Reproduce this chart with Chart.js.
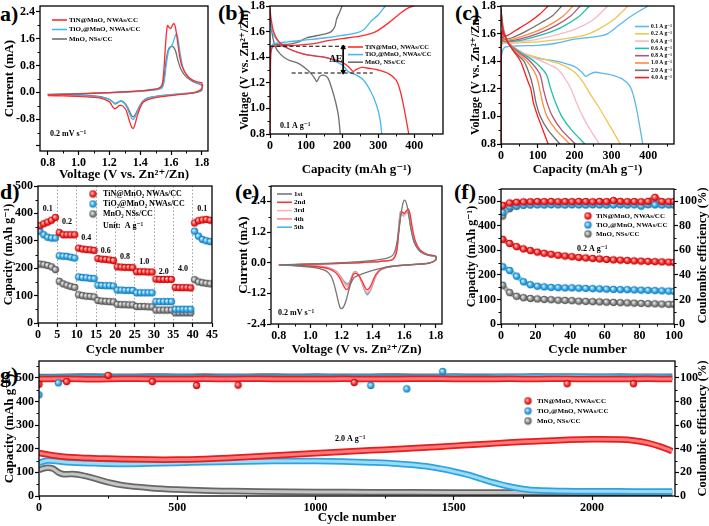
<!DOCTYPE html>
<html><head><meta charset="utf-8">
<script src="https://cdn.jsdelivr.net/npm/chart.js@4.4.1/dist/chart.umd.min.js"></script>
<style>
body{margin:0;width:709px;height:526px;background:#fff;position:relative;overflow:hidden}
canvas{position:absolute}
.pl{position:absolute;font:bold 22px 'Liberation Serif','Times New Roman',serif;color:#000;line-height:1}
</style></head><body>
<div class="pl" style="left:0px;top:3px">a)</div>
<div class="pl" style="left:218px;top:2px">(b)</div>
<div class="pl" style="left:455px;top:2px">(c)</div>
<div class="pl" style="left:0px;top:181px">d)</div>
<div class="pl" style="left:235px;top:181px">(e)</div>
<div class="pl" style="left:454px;top:181px">(f)</div>
<div class="pl" style="left:0px;top:364px">g)</div>
<script>
// ---------------- DATA ----------------
// (a) CV at 0.2 mV/s : [voltage, current]
const cvA_TiN = [[0.80,-0.08],[0.90,-0.07],[1.00,-0.05],[1.10,-0.03],[1.20,-0.01],[1.30,0.01],[1.40,0.04],[1.48,0.08],[1.52,0.12],[1.54,0.2],[1.55,0.45],[1.56,1.1],[1.57,1.75],[1.578,1.99],[1.588,1.93],[1.598,1.9],[1.608,1.98],[1.618,2.05],[1.628,1.95],[1.64,1.6],[1.655,1.1],[1.67,0.8],[1.70,0.52],[1.74,0.36],[1.78,0.3],[1.80,0.28],[1.80,0.12],[1.77,0.02],[1.72,-0.03],[1.65,-0.07],[1.58,-0.11],[1.50,-0.16],[1.45,-0.22],[1.42,-0.3],[1.40,-0.45],[1.38,-0.72],[1.365,-0.98],[1.355,-1.08],[1.345,-1.04],[1.33,-0.85],[1.31,-0.55],[1.29,-0.42],[1.275,-0.39],[1.262,-0.4],[1.25,-0.45],[1.238,-0.49],[1.228,-0.47],[1.215,-0.38],[1.20,-0.28],[1.15,-0.18],[1.10,-0.15],[1.00,-0.12],[0.90,-0.11],[0.80,-0.10]];
const cvA_TiO2 = [[0.80,-0.07],[1.00,-0.05],[1.20,-0.02],[1.40,0.03],[1.50,0.07],[1.54,0.12],[1.555,0.3],[1.57,0.85],[1.585,1.25],[1.60,1.36],[1.612,1.45],[1.625,1.65],[1.635,1.73],[1.645,1.6],[1.66,1.15],[1.68,0.7],[1.72,0.42],[1.76,0.3],[1.80,0.22],[1.80,0.07],[1.76,0.0],[1.70,-0.03],[1.60,-0.07],[1.50,-0.13],[1.45,-0.18],[1.42,-0.27],[1.40,-0.4],[1.38,-0.6],[1.365,-0.76],[1.355,-0.81],[1.345,-0.78],[1.33,-0.63],[1.31,-0.42],[1.29,-0.3],[1.275,-0.27],[1.26,-0.28],[1.248,-0.31],[1.236,-0.33],[1.222,-0.29],[1.20,-0.21],[1.15,-0.15],[1.10,-0.12],[1.00,-0.09],[0.90,-0.08],[0.80,-0.07]];
const cvA_MnO2 = [[0.80,-0.06],[1.00,-0.04],[1.20,-0.01],[1.40,0.04],[1.50,0.09],[1.54,0.16],[1.555,0.45],[1.57,1.0],[1.585,1.3],[1.60,1.36],[1.615,1.35],[1.63,1.22],[1.645,0.95],[1.665,0.68],[1.70,0.45],[1.75,0.3],[1.80,0.2],[1.80,0.06],[1.76,-0.01],[1.70,-0.04],[1.60,-0.07],[1.50,-0.12],[1.45,-0.17],[1.42,-0.25],[1.40,-0.38],[1.38,-0.56],[1.365,-0.69],[1.355,-0.73],[1.345,-0.7],[1.33,-0.56],[1.31,-0.38],[1.29,-0.28],[1.275,-0.26],[1.26,-0.29],[1.248,-0.33],[1.238,-0.35],[1.225,-0.3],[1.20,-0.21],[1.15,-0.14],[1.10,-0.11],[1.00,-0.08],[0.90,-0.07],[0.80,-0.06]];

// (b) GCD at 0.1 A/g : [capacity, voltage]
const gcdB_TiN_dis = [[0,1.78],[3,1.7],[10,1.6],[25,1.52],[50,1.47],[75,1.44],[100,1.42],[150,1.40],[200,1.36],[220,1.32],[230,1.29],[240,1.305],[255,1.32],[280,1.31],[300,1.30],[330,1.27],[350,1.22],[360,1.15],[370,1.03],[380,0.88],[385,0.8]];
const gcdB_TiN_chg = [[0,0.8],[1,1.2],[2,1.4],[4,1.46],[10,1.485],[50,1.49],[100,1.50],[130,1.51],[160,1.53],[200,1.545],[250,1.565],[280,1.585],[300,1.61],[330,1.67],[360,1.74],[380,1.78],[400,1.8]];
const gcdB_TiO2_dis = [[0,1.72],[5,1.62],[15,1.55],[40,1.48],[100,1.42],[150,1.40],[180,1.37],[200,1.34],[210,1.31],[218,1.285],[240,1.26],[260,1.22],[280,1.13],[295,1.03],[305,0.92],[310,0.8]];
const gcdB_TiO2_chg = [[0,1.35],[2,1.45],[8,1.5],[50,1.52],[100,1.535],[150,1.55],[200,1.57],[240,1.59],[260,1.615],[280,1.68],[300,1.73],[320,1.8]];
const gcdB_MnO2_dis = [[0,1.75],[5,1.6],[15,1.48],[30,1.42],[50,1.38],[80,1.35],[100,1.31],[115,1.27],[125,1.23],[130,1.21],[138,1.25],[148,1.26],[160,1.24],[172,1.15],[182,1.05],[190,0.94],[195,0.8]];
const gcdB_MnO2_chg = [[0,1.45],[5,1.49],[20,1.5],[50,1.5],[80,1.52],[100,1.55],[150,1.58],[170,1.6],[180,1.64],[185,1.7],[193,1.75],[200,1.8]];
const dEupper = [[0,1.486],[212,1.486]];
const dElower = [[60,1.276],[285,1.276]];
const dEarrow = [[203,1.476],[203,1.287]];

// (c) TiN@MnO2 at different rates : [capacity, voltage]
const rateLabels = ['0.1 A g⁻¹','0.2 A g⁻¹','0.4 A g⁻¹','0.6 A g⁻¹','0.8 A g⁻¹','1.0 A g⁻¹','2.0 A g⁻¹','4.0 A g⁻¹'];
const cDis01 = [[0,1.78],[3,1.7],[10,1.6],[25,1.52],[50,1.47],[75,1.44],[100,1.42],[150,1.40],[200,1.36],[220,1.32],[230,1.29],[240,1.305],[255,1.32],[280,1.31],[300,1.30],[330,1.27],[350,1.22],[360,1.15],[370,1.03],[380,0.88],[385,0.8]];
const cChg01 = [[0,1.35],[2,1.45],[10,1.5],[40,1.51],[100,1.515],[150,1.53],[200,1.56],[250,1.575],[275,1.585],[290,1.6],[320,1.66],[350,1.72],[380,1.77],[400,1.8]];
const cDis02 = [[0,1.77],[3,1.69],[8,1.62],[20,1.54],[60,1.46],[110,1.42],[160,1.38],[200,1.32],[225,1.24],[245,1.15],[265,1.07],[285,0.98],[305,0.89],[324,0.8]];
const cChg02 = [[0,0.8],[1,1.5],[4,1.53],[15,1.53],[100,1.54],[180,1.565],[230,1.59],[270,1.64],[310,1.71],[345,1.8]];
const cDis04 = [[0,1.78],[3,1.69],[8,1.62],[20,1.54],[60,1.46],[110,1.4],[155,1.34],[175,1.27],[190,1.2],[205,1.1],[222,1.0],[243,0.9],[267,0.8]];
const cChg04 = [[0,0.8],[1,1.5],[3,1.54],[10,1.535],[80,1.55],[150,1.59],[200,1.63],[250,1.7],[290,1.8]];
const cDis06 = [[0,1.78],[3,1.68],[8,1.61],[20,1.53],[55,1.46],[90,1.4],[122,1.31],[135,1.2],[148,1.1],[165,1.0],[192,0.9],[228,0.8]];
const cChg06 = [[0,0.8],[1,1.5],[3,1.55],[10,1.54],[60,1.555],[110,1.59],[160,1.64],[210,1.72],[240,1.8]];
const cDis08 = [[0,1.78],[3,1.68],[8,1.61],[20,1.53],[50,1.46],[75,1.41],[105,1.31],[115,1.2],[125,1.1],[140,1.0],[165,0.9],[202,0.8]];
const cChg08 = [[0,0.8],[1,1.5],[3,1.56],[10,1.545],[50,1.56],[100,1.6],[150,1.66],[190,1.73],[215,1.8]];
const cDis10 = [[0,1.78],[3,1.67],[8,1.6],[20,1.53],[45,1.46],[70,1.4],[95,1.3],[105,1.2],[113,1.1],[125,1.0],[150,0.9],[187,0.8]];
const cChg10 = [[0,0.8],[1,1.5],[3,1.57],[10,1.55],[40,1.565],[90,1.61],[130,1.66],[170,1.73],[195,1.8]];
const cDis20 = [[0,1.78],[3,1.67],[8,1.6],[20,1.53],[40,1.46],[62,1.4],[78,1.3],[88,1.2],[95,1.1],[107,1.0],[128,0.9],[160,0.8]];
const cChg20 = [[0,0.8],[1,1.5],[3,1.58],[10,1.56],[30,1.57],[70,1.62],[110,1.68],[140,1.73],[165,1.8]];
const cDis40 = [[0,1.78],[3,1.66],[8,1.6],[20,1.53],[35,1.47],[53,1.4],[67,1.3],[75,1.24],[81,1.2],[88,1.1],[100,1.0],[114,0.9],[128,0.8]];
const cChg40 = [[0,0.8],[1,1.5],[3,1.62],[8,1.58],[20,1.59],[50,1.64],[80,1.69],[105,1.74],[128,1.8]];

// (d) rate performance
const dCycle = [1,2,3,4,5,6,7,8,9,10,11,12,13,14,15,16,17,18,19,20,21,22,23,24,25,26,27,28,29,30,31,32,33,34,35,36,37,38,39,40,41,42,43,44,45];
const dTiN  = [355,362,368,375,385,330,322,322,322,322,273,270,268,267,265,235,233,232,230,228,205,204,203,203,202,187,187,187,186,186,160,159,159,159,159,130,129,129,129,128,365,373,376,378,375];
const dTiO2 = [335,322,313,310,310,245,244,243,240,237,168,166,165,163,162,138,137,136,136,135,120,120,119,119,119,110,110,110,110,110,78,78,78,78,78,50,50,50,50,50,335,317,305,300,297];
const dMnO2 = [215,213,210,205,195,152,143,138,133,130,103,100,98,97,95,82,80,79,78,77,68,67,67,66,66,60,60,60,59,59,47,47,47,47,47,37,37,37,37,37,158,150,147,145,143];
const dRateText = ['0.1','0.2','0.4','0.6','0.8','1.0','2.0','4.0','0.1'];
const dRateTextCycle = [2.5,7.5,12.5,17.5,22.5,27.5,32.5,37.5,42.5];
const dRateTextCap = [418,368,309,263,240,224,188,196,418];

// (e) CV cycles of TiN@MnO2 : [voltage, current]
const cvE_1 = [[0.80,-0.09],[1.00,-0.05],[1.20,0.0],[1.35,0.06],[1.45,0.13],[1.50,0.2],[1.53,0.32],[1.55,0.7],[1.565,1.3],[1.58,1.95],[1.592,2.35],[1.60,2.45],[1.61,2.38],[1.625,2.0],[1.64,1.4],[1.66,0.85],[1.69,0.5],[1.73,0.33],[1.77,0.27],[1.80,0.25],[1.80,0.1],[1.76,-0.01],[1.70,-0.05],[1.60,-0.1],[1.50,-0.17],[1.45,-0.22],[1.40,-0.3],[1.35,-0.4],[1.32,-0.47],[1.30,-0.52],[1.28,-0.58],[1.26,-0.8],[1.245,-1.1],[1.23,-1.45],[1.215,-1.7],[1.20,-1.8],[1.19,-1.75],[1.18,-1.55],[1.165,-1.15],[1.15,-0.8],[1.13,-0.5],[1.10,-0.32],[1.05,-0.22],[1.00,-0.17],[0.90,-0.12],[0.80,-0.09]];
const cvE_2 = [[0.80,-0.09],[1.00,-0.06],[1.20,-0.03],[1.40,0.03],[1.50,0.08],[1.53,0.14],[1.55,0.4],[1.565,1.2],[1.578,1.9],[1.59,1.98],[1.60,1.92],[1.612,2.02],[1.625,2.1],[1.635,1.95],[1.65,1.4],[1.67,0.85],[1.70,0.5],[1.75,0.32],[1.80,0.25],[1.80,0.12],[1.76,-0.02],[1.70,-0.06],[1.60,-0.1],[1.50,-0.16],[1.45,-0.26],[1.42,-0.45],[1.40,-0.7],[1.385,-0.92],[1.37,-1.04],[1.36,-1.05],[1.35,-0.97],[1.33,-0.72],[1.31,-0.5],[1.29,-0.42],[1.28,-0.43],[1.27,-0.52],[1.258,-0.75],[1.245,-0.98],[1.235,-1.05],[1.225,-1.02],[1.21,-0.88],[1.19,-0.62],[1.16,-0.38],[1.12,-0.24],[1.05,-0.16],[0.95,-0.12],[0.80,-0.09]];
const cvE_3 = [[0.80,-0.09],[1.00,-0.06],[1.20,-0.03],[1.40,0.03],[1.50,0.08],[1.53,0.14],[1.55,0.45],[1.565,1.3],[1.578,1.97],[1.59,1.9],[1.60,1.86],[1.61,1.95],[1.62,2.02],[1.632,1.9],[1.648,1.35],[1.67,0.8],[1.70,0.48],[1.75,0.31],[1.80,0.24],[1.80,0.11],[1.76,-0.02],[1.70,-0.06],[1.60,-0.1],[1.50,-0.16],[1.45,-0.27],[1.42,-0.48],[1.40,-0.76],[1.385,-1.0],[1.37,-1.13],[1.36,-1.15],[1.35,-1.06],[1.33,-0.78],[1.31,-0.5],[1.295,-0.39],[1.285,-0.38],[1.275,-0.44],[1.262,-0.65],[1.25,-0.85],[1.24,-0.93],[1.228,-0.9],[1.21,-0.76],[1.19,-0.55],[1.16,-0.34],[1.12,-0.22],[1.05,-0.15],[0.95,-0.11],[0.80,-0.09]];
const cvE_4 = [[0.80,-0.09],[1.00,-0.06],[1.20,-0.03],[1.40,0.03],[1.50,0.08],[1.53,0.14],[1.55,0.45],[1.565,1.32],[1.577,2.0],[1.59,1.9],[1.598,1.84],[1.608,1.93],[1.618,2.0],[1.63,1.88],[1.646,1.33],[1.67,0.78],[1.70,0.47],[1.75,0.3],[1.80,0.24],[1.80,0.1],[1.76,-0.02],[1.70,-0.06],[1.60,-0.1],[1.50,-0.16],[1.45,-0.28],[1.42,-0.5],[1.40,-0.8],[1.385,-1.04],[1.37,-1.18],[1.362,-1.2],[1.35,-1.1],[1.33,-0.8],[1.31,-0.5],[1.295,-0.37],[1.285,-0.36],[1.275,-0.42],[1.262,-0.62],[1.25,-0.81],[1.24,-0.88],[1.228,-0.86],[1.21,-0.72],[1.19,-0.52],[1.16,-0.32],[1.12,-0.21],[1.05,-0.15],[0.95,-0.11],[0.80,-0.09]];
const cvE_5 = [[0.80,-0.09],[1.00,-0.06],[1.20,-0.03],[1.40,0.03],[1.50,0.08],[1.53,0.14],[1.55,0.48],[1.563,1.35],[1.575,2.0],[1.587,1.9],[1.595,1.82],[1.605,1.9],[1.615,2.0],[1.627,1.86],[1.643,1.3],[1.665,0.76],[1.70,0.45],[1.75,0.3],[1.80,0.23],[1.80,0.1],[1.76,-0.02],[1.70,-0.06],[1.60,-0.1],[1.50,-0.16],[1.45,-0.29],[1.42,-0.52],[1.40,-0.84],[1.385,-1.08],[1.37,-1.23],[1.362,-1.25],[1.35,-1.14],[1.33,-0.82],[1.31,-0.5],[1.295,-0.36],[1.285,-0.35],[1.275,-0.4],[1.262,-0.58],[1.25,-0.76],[1.24,-0.82],[1.228,-0.8],[1.21,-0.68],[1.19,-0.5],[1.16,-0.31],[1.12,-0.2],[1.05,-0.14],[0.95,-0.11],[0.80,-0.09]];
const eCycleLabels = ['1st','2nd','3rd','4th','5th'];

// (f) cycling at 0.2 A/g
const fCycle = [1,5,9,13,17,21,25,29,33,37,41,45,49,53,57,61,65,69,73,77,81,85,89,93,97,100];
const fCapTiN  = [345,328,315,306,299,293,288,284,280,277,274,271,269,267,265,263,261,260,259,257,256,255,254,253,252,251];
const fCapTiO2 = [233,218,195,172,160,154,151,149,148,147,147,146,145,144,143,142,141,140,140,139,138,137,136,135,134,133];
const fCapMnO2 = [158,128,113,107,104,102,100,99,97,96,95,93,92,91,90,89,88,87,86,85,84,83,82,81,80,80];
const fCeTiN  = [96.5,98.6,99.2,99.5,99.6,99.8,99.7,99.9,99.6,99.8,99.7,99.9,99.8,99.6,99.9,99.7,100.6,99.9,99.7,99.8,99.6,99.9,103.2,99.8,99.7,99.8];
const fCeTiO2 = [91,95.5,96.3,96.8,97,97.1,97.0,97.2,97.1,97.0,97.2,97.1,97.0,97.2,97.1,97.0,97.1,97.2,97.0,97.1,96.0,97.2,97.1,97.0,97.1,97.0];
const fCeMnO2 = [88,94,96,97,97.3,97.5,97.4,97.6,97.5,97.4,97.6,97.5,97.4,97.5,97.6,97.4,97.5,97.6,97.5,98.5,97.5,97.4,97.6,97.5,97.4,97.5];

// (g) long cycling at 2.0 A/g
const gXTicks  = [0,500,1000,1500,2000];
const gCycTiN  = [0,30,60,100,150,200,300,400,500,600,700,800,900,1000,1100,1200,1300,1400,1500,1600,1700,1800,1900,2000,2100,2150,2200,2250,2290];
const gCapTiN  = [182,176,170,165,162,160,156,154,154,157,162,168,174,181,187,193,199,205,212,219,226,232,237,240,239,235,225,208,190];
const gCycTiO2 = [0,30,60,100,200,300,400,500,600,700,800,900,1000,1100,1200,1300,1400,1450,1500,1550,1600,1650,1700,1750,1800,1900,2000,2100,2200,2290];
const gCapTiO2 = [140,150,148,143,138,135,137,140,143,145,147,148,148,146,142,136,126,116,104,90,72,55,40,30,24,21,20,20,19,19];
const gCycMnO2 = [0,15,30,50,70,85,100,120,140,170,200,250,300,400,500,600,700,800,1000,1200,1500,2000,2290];
const gCapMnO2 = [110,116,119,116,100,93,92,93,91,84,75,58,46,34,27,23,21,19,17,16,15,14,13];
const gCycCE   = [0,100,200,300,400,500,600,700,800,900,1000,1100,1200,1300,1400,1500,1600,1700,1800,1900,2000,2100,2200,2290];
const gCeTiN   = [98.9,99.1,98.8,99.2,99.0,98.9,99.1,99.0,99.2,98.9,99.0,99.1,98.9,99.0,99.2,99.0,98.9,99.1,99.0,99.2,98.9,99.0,99.1,99.0];
const gCeTiO2  = [99.8,100.2,100.0,100.3,100.1,100.2,99.9,100.3,100.1,100.0,100.2,100.1,100.3,100.0,100.2,100.4,100.1,100.6,100.8,101.0,100.7,100.5,100.4,100.3];
const gCeMnO2  = [100.6,100.9,101.0,100.8,101.1,100.9,101.0,100.8,101.1,100.9,101.0,100.8,100.9,101.1,100.8,101.0,100.9,100.8,101.0,100.9,100.8,101.0,100.9,100.8];
const gCeOutTiN  = [[0,94.5],[100,96.8],[250,102],[410,96.8],[570,93.5],[720,93.8],[1140,96],[1910,95],[2150,95]];
const gCeOutTiO2 = [[0,85.5],[70,95.7],[1200,93.5],[1330,90.6],[1460,105.3]];

const seriesNames = ['TiN@MnO₂ NWAs/CC','TiO₂@MnO₂ NWAs/CC','MnO₂ NSs/CC'];

// ---------------- STYLE / HELPERS ----------------
const SERIF = "'Liberation Serif','Times New Roman','DejaVu Serif',serif";
Chart.defaults.font.family = SERIF;
Chart.defaults.color = '#000';
Chart.defaults.animation = false;
Chart.defaults.plugins.legend.display = false;
Chart.defaults.plugins.tooltip.enabled = false;
Chart.defaults.elements.point.radius = 0;
Chart.defaults.elements.line.borderWidth = 1.3;

const RED = '#ff2b2b', BLUE = '#45b8ee', GREY = '#6e6e6e';
const TICK = {size: 12, weight: 'bold', family: SERIF};
const CFG = {};

const P = arr => arr.map(([x, y]) => ({x, y}));
const XY = (xs, ys) => xs.map((x, i) => ({x, y: ys[i]}));

function ballCanvas(light, mid, dark, r) {
  const c = document.createElement('canvas');
  const s = Math.ceil(2 * r + 2);
  c.width = s; c.height = s;
  const g = c.getContext('2d');
  const cx = s / 2, cy = s / 2;
  const gr = g.createRadialGradient(cx - r * 0.35, cy - r * 0.35, r * 0.1, cx, cy, r);
  gr.addColorStop(0, light); gr.addColorStop(0.55, mid); gr.addColorStop(1, dark);
  g.fillStyle = gr; g.beginPath(); g.arc(cx, cy, r, 0, Math.PI * 2); g.fill();
  g.strokeStyle = dark; g.lineWidth = 0.6; g.stroke();
  return c;
}
const BALL = {
  red: ballCanvas('#ffd0d0', '#ff3b3b', '#c40000', 3.4),
  blue: ballCanvas('#e0f6ff', '#3fb6f0', '#1677b8', 3.4),
  grey: ballCanvas('#f2f2f2', '#9c9c9c', '#505050', 3.4)
};

function axis(min, max, step, fmt, title, pos, tsize) {
  return {
    type: 'linear', min, max, position: pos,
    ticks: {stepSize: step, includeBounds: false, font: TICK, color: '#000', padding: 1, callback: fmt},
    grid: {display: true, drawOnChartArea: false, drawTicks: true, tickLength: 4, tickColor: '#000', tickWidth: 1.2},
    border: {display: false},
    title: title ? {display: true, text: title, font: {size: tsize || 13, weight: 'bold', family: SERIF}, color: '#000', padding: {top: 2, bottom: 1}} : {display: false}
  };
}
const f1 = v => v.toFixed(1);
const f0 = v => String(Math.round(v));

const frame = {id: 'frame', afterDatasetsDraw(chart) {
  const {ctx, chartArea: a} = chart;
  ctx.save(); ctx.strokeStyle = '#000'; ctx.lineWidth = 1.3; ctx.setLineDash([]);
  ctx.strokeRect(a.left, a.top, a.right - a.left, a.bottom - a.top); ctx.restore();
}};

const minor = {id: 'minorT', afterDraw(chart) {
  const cfg = CFG[chart.canvas.id]; if (!cfg || !cfg.minor) return;
  const {ctx, chartArea: a} = chart;
  ctx.save(); ctx.strokeStyle = '#000'; ctx.lineWidth = 1;
  for (const [id, step] of Object.entries(cfg.minor)) {
    const s = chart.scales[id]; if (!s) continue;
    const start = Math.ceil(s.min / step - 1e-6) * step;
    for (let k = 0; start + k * step <= s.max + 1e-9; k++) {
      const v = start + k * step;
      if (s.ticks.some(t => Math.abs(t.value - v) < step * 1e-3)) continue;
      const p = Math.round(s.getPixelForValue(v)) + 0.5;
      ctx.beginPath();
      if (s.isHorizontal()) { ctx.moveTo(p, a.bottom); ctx.lineTo(p, a.bottom + 2.5); }
      else if (s.position === 'left') { ctx.moveTo(a.left, p); ctx.lineTo(a.left - 2.5, p); }
      else { ctx.moveTo(a.right, p); ctx.lineTo(a.right + 2.5, p); }
      ctx.stroke();
    }
  }
  ctx.restore();
}};

const notes = {id: 'notes', afterDraw(chart) {
  const cfg = CFG[chart.canvas.id]; if (!cfg) return;
  const ctx = chart.ctx, ox = cfg.ox, oy = cfg.oy;
  (cfg.texts || []).forEach(it => {
    let x, y;
    if (it.data) { x = chart.scales.x.getPixelForValue(it.x); y = chart.scales[it.ys || 'y'].getPixelForValue(it.y); }
    else { x = it.x - ox; y = it.y - oy; }
    ctx.save(); ctx.translate(x, y); if (it.rot) ctx.rotate(it.rot * Math.PI / 180);
    ctx.font = 'bold ' + (it.size || 8) + 'px ' + SERIF;
    ctx.fillStyle = '#000'; ctx.textAlign = it.align || 'left'; ctx.textBaseline = 'middle';
    ctx.fillText(it.text, 0, 0); ctx.restore();
  });
  const L = cfg.legend;
  if (L) {
    L.items.forEach((it, i) => {
      const x = L.x - ox, y = L.y - oy + i * L.row;
      ctx.save();
      if (it.ball) ctx.drawImage(it.ball, x + L.len / 2 - it.ball.width / 2, y - it.ball.height / 2);
      else { ctx.strokeStyle = it.color; ctx.lineWidth = L.lw || 1.5; ctx.beginPath(); ctx.moveTo(x, y); ctx.lineTo(x + L.len, y); ctx.stroke(); }
      ctx.font = 'bold ' + L.size + 'px ' + SERIF; ctx.fillStyle = '#000'; ctx.textAlign = 'left'; ctx.textBaseline = 'middle';
      ctx.fillText(it.text, x + L.len + L.gap, y);
      ctx.restore();
    });
  }
}};

let nCharts = 0;
function makeChart(cv, box, datasets, scales, extra) {
  const c = document.createElement('canvas');
  c.id = 'cv' + (nCharts++);
  c.width = cv.w; c.height = cv.h;
  c.style.left = cv.x + 'px'; c.style.top = cv.y + 'px';
  c.style.width = cv.w + 'px'; c.style.height = cv.h + 'px';
  document.body.appendChild(c);
  const fix = (prop, val) => s => { s[prop] = val; s.paddingTop = 0; s.paddingBottom = 0; s.paddingLeft = 0; s.paddingRight = 0; };
  scales.x.afterFit = fix('height', cv.y + cv.h - box.b);
  scales.y.afterFit = fix('width', box.l - cv.x);
  const hasR = !!scales.y2;
  if (hasR) scales.y2.afterFit = fix('width', cv.x + cv.w - box.r);
  CFG[c.id] = Object.assign({ox: cv.x, oy: cv.y}, extra || {});
  return new Chart(c, {
    type: 'scatter',
    data: {datasets},
    options: {
      responsive: false, devicePixelRatio: 1, animation: false,
      layout: {padding: {top: box.t - cv.y, left: 0, bottom: 0, right: hasR ? 0 : (cv.x + cv.w - box.r)}},
      scales
    },
    plugins: [frame, minor, notes]
  });
}
const lineDS = (label, data, color, w) => ({label, data, showLine: true, borderColor: color, backgroundColor: color, borderWidth: w || 1.3, pointRadius: 0, tension: 0.3});

// ---------------- (a) ----------------
makeChart({x: 0, y: 0, w: 222, h: 183}, {l: 40, t: 6, r: 208, b: 151},
  [lineDS(seriesNames[0], P(cvA_TiN), RED), lineDS(seriesNames[1], P(cvA_TiO2), BLUE), lineDS(seriesNames[2], P(cvA_MnO2), GREY)],
  {x: axis(0.75, 1.84, 0.2, f1, 'Voltage (V vs. Zn²⁺/Zn)'),
   y: axis(-1.75, 2.57, 0.8, v => v < -1.2 ? '' : v.toFixed(1), 'Current (mA)')},
  {minor: {x: 0.1, y: 0.4},
   texts: [{text: '0.2 mV s⁻¹', x: 50, y: 134, size: 8}],
   legend: {x: 52, y: 20, row: 9.5, len: 15, gap: 2, size: 7, lw: 1.6,
     items: [{text: seriesNames[0], color: RED}, {text: seriesNames[1], color: BLUE}, {text: seriesNames[2], color: GREY}]}});

// ---------------- (b) ----------------
makeChart({x: 236, y: 0, w: 222, h: 178}, {l: 270, t: 6, r: 443, b: 134},
  [lineDS('dE upper', P(dEupper), '#000', 1.1), lineDS('dE lower', P(dElower), '#000', 1.1),
   {label: 'ΔE', data: P(dEarrow), showLine: true, borderColor: '#000', borderWidth: 1, pointStyle: 'triangle', pointRadius: 2.5, pointRotation: [0, 180], pointBackgroundColor: '#000', pointBorderColor: '#000'},
   lineDS(seriesNames[0], P(gcdB_TiN_dis), RED), lineDS(seriesNames[0], P(gcdB_TiN_chg), RED),
   lineDS(seriesNames[1], P(gcdB_TiO2_dis), BLUE), lineDS(seriesNames[1], P(gcdB_TiO2_chg), BLUE),
   lineDS(seriesNames[2], P(gcdB_MnO2_dis), GREY), lineDS(seriesNames[2], P(gcdB_MnO2_chg), GREY)]
   .map((d, i) => { if (i < 2) { d.borderDash = [4, 2.5]; d.tension = 0; } return d; }),
  {x: axis(0, 480, 100, f0, 'Capacity (mAh g⁻¹)'),
   y: axis(0.8, 1.8, 0.2, f1, 'Voltage (V vs. Zn²⁺/Zn)', 'left', 12)},
  {minor: {x: 50, y: 0.1},
   texts: [{text: '0.1 A g⁻¹', x: 280, y: 126, size: 8}, {text: 'ΔE', data: true, x: 183, y: 1.385, size: 10, align: 'center'}],
   legend: {x: 348, y: 47, row: 7.6, len: 15, gap: 2, size: 6.5, lw: 1.6,
     items: [{text: seriesNames[0], color: RED}, {text: seriesNames[1], color: BLUE}, {text: seriesNames[2], color: GREY}]}});

// ---------------- (c) ----------------
const cColors = ['#5bb8ee', '#f0c650', '#f7b8c8', '#19c2a4', '#b0567a', '#ff8a3d', '#6e6e6e', '#ff1a1a'];
const cDis = [cDis01, cDis02, cDis04, cDis06, cDis08, cDis10, cDis20, cDis40];
const cChg = [cChg01, cChg02, cChg04, cChg06, cChg08, cChg10, cChg20, cChg40];
const cSets = [];
for (let i = 7; i >= 0; i--) { cSets.push(lineDS(rateLabels[i], P(cDis[i]), cColors[i])); cSets.push(lineDS(rateLabels[i], P(cChg[i]), cColors[i])); }
makeChart({x: 467, y: 0, w: 242, h: 178}, {l: 501, t: 6, r: 674, b: 144}, cSets,
  {x: axis(0, 470, 100, f0, 'Capacity (mAh g⁻¹)'),
   y: axis(0.8, 1.8, 0.2, f1, 'Voltage (V vs. Zn²⁺/Zn)', 'left', 12)},
  {minor: {x: 50, y: 0.1},
   legend: {x: 635, y: 26.5, row: 7.3, len: 14, gap: 2, size: 5.5, lw: 1.6,
     items: rateLabels.map((t, i) => ({text: t, color: cColors[i]}))}});

// ---------------- (d) ----------------
const dotDS = (label, xs, ys, ball) => ({label, data: XY(xs.map(c => c - 0.5), ys), showLine: false, pointStyle: ball, pointRadius: 3.4});
const dScales = {x: axis(0, 45, 5, f0, 'Cycle number'), y: axis(0, 500, 100, f0, 'Capacity (mAh g⁻¹)', 'left', 12)};
dScales.x.grid = {display: true, drawOnChartArea: true, drawTicks: true, tickLength: 4, tickColor: '#000', tickWidth: 1.2,
  color: c => (c.tick && (c.tick.value === 0 || c.tick.value === 45)) ? 'rgba(0,0,0,0)' : '#8a8a8a', lineWidth: 0.8};
dScales.x.border = {display: false, dash: [1.5, 2]};
makeChart({x: 0, y: 180, w: 225, h: 178}, {l: 38, t: 186, r: 212, b: 323},
  [dotDS(seriesNames[0], dCycle, dTiN, BALL.red), dotDS(seriesNames[1], dCycle, dTiO2, BALL.blue), dotDS(seriesNames[2], dCycle, dMnO2, BALL.grey)],
  dScales,
  {minor: {y: 50},
   texts: dRateText.map((t, i) => ({text: t, data: true, x: dRateTextCycle[i], y: dRateTextCap[i], size: 8, align: 'center'}))
     .concat([{text: 'Unit:  A g⁻¹', x: 103, y: 226, size: 8}]),
   legend: {x: 89, y: 194, row: 10, len: 8, gap: 6, size: 8,
     items: [{text: seriesNames[0], ball: BALL.red}, {text: seriesNames[1], ball: BALL.blue}, {text: seriesNames[2], ball: BALL.grey}]}});

// ---------------- (e) ----------------
const eColors = ['#777777', '#ff3030', '#ffb3b3', '#ff8a8a', '#45b8ee'];
const eData = [cvE_1, cvE_2, cvE_3, cvE_4, cvE_5];
makeChart({x: 234, y: 180, w: 222, h: 178}, {l: 271, t: 186, r: 442, b: 324},
  [4, 3, 2, 1, 0].map(i => lineDS(eCycleLabels[i], P(eData[i]), eColors[i])).reverse(),
  {x: axis(0.75, 1.84, 0.2, f1, 'Voltage (V vs. Zn²⁺/Zn)'),
   y: axis(-2.4, 3.0, 1.2, f1, 'Current (mA)')},
  {minor: {x: 0.1, y: 0.6},
   texts: [{text: '0.2 mV s⁻¹', x: 278, y: 313, size: 8}],
   legend: {x: 277, y: 194, row: 8.3, len: 15, gap: 2, size: 7, lw: 1.6,
     items: eCycleLabels.map((t, i) => ({text: t, color: eColors[i]}))}});

// ---------------- (f) ----------------
const bandDS = (label, xs, ys, ball, lineCol, axisId) => ({label, data: XY(xs, ys), yAxisID: axisId, showLine: true, borderColor: lineCol, borderWidth: 5, pointStyle: ball, pointRadius: 3.4, tension: 0.3});
makeChart({x: 463, y: 180, w: 246, h: 178}, {l: 501, t: 187, r: 674, b: 324},
  [bandDS(seriesNames[0], fCycle, fCeTiN, BALL.red, '#ff6a6a', 'y2'),
   bandDS(seriesNames[1], fCycle, fCeTiO2, BALL.blue, '#7fd0f5', 'y2'),
   bandDS(seriesNames[2], fCycle, fCeMnO2, BALL.grey, '#b0b0b0', 'y2'),
   bandDS(seriesNames[0], fCycle, fCapTiN, BALL.red, '#ff6a6a', 'y'),
   bandDS(seriesNames[1], fCycle, fCapTiO2, BALL.blue, '#7fd0f5', 'y'),
   bandDS(seriesNames[2], fCycle, fCapMnO2, BALL.grey, '#b0b0b0', 'y')],
  {x: axis(0, 100, 20, f0, 'Cycle number'),
   y: axis(0, 550, 100, f0, 'Capacity (mAh g⁻¹)', 'left', 12),
   y2: axis(0, 110, 20, f0, null, 'right')},
  {minor: {x: 10, y: 50, y2: 10},
   texts: [{text: '0.2 A g⁻¹', x: 577, y: 249, size: 8}, {text: 'Coulombic efficiency (%)', x: 703, y: 255.5, size: 12.5, rot: -90, align: 'center'}],
   legend: {x: 584, y: 216, row: 9, len: 8, gap: 4, size: 7,
     items: [{text: seriesNames[0], ball: BALL.red}, {text: seriesNames[1], ball: BALL.blue}, {text: seriesNames[2], ball: BALL.grey}]}});

// ---------------- (g) ----------------
const tube = (label, xs, ys, outer, inner, axisId) => [
  {label, data: XY(xs, ys), yAxisID: axisId, showLine: true, borderColor: inner, borderWidth: 3, pointRadius: 0, tension: 0.4},
  {label, data: XY(xs, ys), yAxisID: axisId, showLine: true, borderColor: outer, borderWidth: 6.5, pointRadius: 0, tension: 0.4}];
const outDS = (label, arr, ball) => ({label, data: P(arr), yAxisID: 'y2', showLine: false, pointStyle: ball, pointRadius: 3.4});
const gScales = {x: axis(0, 2300, 500, f0, 'Cycle number'),
   y: axis(0, 571, 100, f0, 'Capacity (mAh g⁻¹)'),
   y2: axis(0, 114.2, 20, f0, null, 'right')};
gScales.x.afterBuildTicks = s => { s.ticks = gXTicks.map(value => ({value})); };
makeChart({x: 0, y: 355, w: 709, h: 171}, {l: 39, t: 361, r: 675, b: 496},
  [outDS(seriesNames[0], gCeOutTiN, BALL.red), outDS(seriesNames[1], gCeOutTiO2, BALL.blue)]
   .concat(tube(seriesNames[0], gCycCE, gCeTiN, '#e81c1c', '#ff7a7a', 'y2'))
   .concat(tube(seriesNames[1], gCycCE, gCeTiO2, '#2ea3e0', '#9adcf8', 'y2'))
   .concat(tube(seriesNames[2], gCycCE, gCeMnO2, '#666666', '#c4c4c4', 'y2'))
   .concat(tube(seriesNames[0], gCycTiN, gCapTiN, '#e81c1c', '#ff7a7a', 'y'))
   .concat(tube(seriesNames[1], gCycTiO2, gCapTiO2, '#2ea3e0', '#9adcf8', 'y'))
   .concat(tube(seriesNames[2], gCycMnO2, gCapMnO2, '#666666', '#c4c4c4', 'y')),
  gScales,
  {minor: {x: 250, y: 50, y2: 10},
   texts: [{text: '2.0 A g⁻¹', x: 335, y: 439, size: 8}, {text: 'Coulombic efficiency (%)', x: 703, y: 428.5, size: 12.5, rot: -90, align: 'center'}],
   legend: {x: 524, y: 401, row: 10, len: 8, gap: 5, size: 7,
     items: [{text: seriesNames[0], ball: BALL.red}, {text: seriesNames[1], ball: BALL.blue}, {text: seriesNames[2], ball: BALL.grey}]}});
</script>
</body></html>
